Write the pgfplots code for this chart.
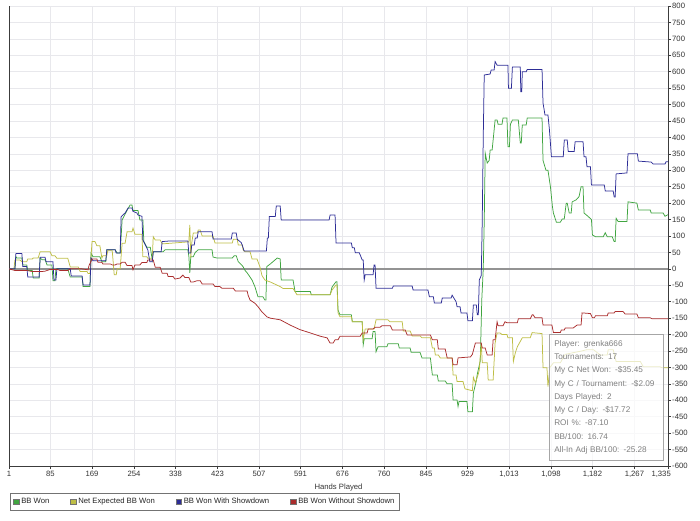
\documentclass[border=0pt]{standalone}
\usepackage{pgfplots}
\pgfplotsset{compat=1.18}
\usepackage{fontspec}
\setmainfont{Liberation Sans}
\definecolor{cgreen}{RGB}{64,165,64}
\definecolor{colive}{RGB}{190,190,70}
\definecolor{cblue}{RGB}{45,45,150}
\definecolor{cred}{RGB}{170,45,45}
\definecolor{gridc}{RGB}{232,232,236}
\definecolor{axc}{RGB}{60,60,60}
\begin{document}
\begin{tikzpicture}
\useasboundingbox (-9pt,-54pt) rectangle (691pt,466pt);
\begin{axis}[
  name=ax,
  scale only axis,
  width=659pt, height=460pt,
  xmin=1, xmax=1335, ymin=-600, ymax=800,
  axis x line*=bottom, axis y line*=right,
  axis line style={axc, line width=0.6pt},
  tick align=outside,
  major tick length=3pt,
  tick style={axc, line width=0.5pt},
  xtick={1,85,169,254,338,423,507,591,676,760,845,929,1013,1098,1182,1267},
  xticklabels={1,85,169,254,338,423,507,591,676,760,845,929,1{,}013,1{,}098,1{,}182,1{,}267},
  extra x ticks={1335},
  extra x tick labels={1{,}335},
  extra x tick style={grid=none, xticklabel style={anchor=north east, xshift=4pt}},
  ytick={-600,-550,...,800},
  yticklabels={-600,-550,-500,-450,-400,-350,-300,-250,-200,-150,-100,-50,0,50,100,150,200,250,300,350,400,450,500,550,600,650,700,750,800},
  ticklabel style={font=\fontsize{7.7}{9}\selectfont, text=black!80},
  yticklabel style={anchor=west, inner sep=1pt},
  xticklabel style={inner sep=1pt, yshift=-1pt},
  grid=major,
  major grid style={gridc, line width=0.5pt},
  xlabel={Hands Played},
  xlabel style={font=\fontsize{7.7}{9}\selectfont, text=black!80, yshift=4pt},
  legend columns=4,
  legend cell align=left,
  legend style={at={(rel axis cs:0,0)}, anchor=north west, xshift=1pt, yshift=-27pt,
     draw=black!55, line width=0.5pt, font=\fontsize{7.7}{9}\selectfont, text=black!85,
     inner xsep=3pt, inner ysep=3pt,
     /tikz/every even column/.append style={column sep=19pt},
     /tikz/every odd column/.append style={column sep=0pt}},
  legend image code/.code={\draw[#1, fill, draw=black!55, line width=0.4pt] (0pt,-2.8pt) rectangle (5.6pt,2.8pt);},
  every axis plot/.append style={line width=0.75pt},
]
\addplot[gray!85, line width=1.3pt, forget plot] coordinates {(1,0) (1335,0)};
\draw[axc, line width=0.6pt] (rel axis cs:0,0) -- (rel axis cs:0,1);

% BB Won
\addplot[cgreen] coordinates {
(1,0) (13,0) (15,37) (17,33) (27,33) (29,12) (37,12) (39,-5) (48,-5) (50,-28) (62,-28) (64,33) (68,28) (74,28) (78,12) (88,12) (90,-36) (94,-36) (96,0) (120,0) (125,-25) (149,-25) (151,-54) (165,-54) (167,48) (171,37) (185,37) (189,22) (197,22) (199,58) (216,58) (220,48) (226,48) (230,149) (240,178) (246,194) (250,194) (252,178) (262,178) (266,149) (272,149) (274,83) (280,66) (287,66) (291,27) (293,52) (313,52) (317,58) (363,58) (365,40) (367,-12) (369,37) (374,37) (378,50) (384,58) (412,58) (414,36) (422,33) (453,33) (457,40) (461,40) (465,22) (473,10) (475,6) (479,-5) (483,-12) (489,-25) (493,-34) (499,-55) (505,-85) (515,-85) (519,-95) (521,-95) (523,7) (530,15) (544,33) (550,30) (552,-34) (576,-34) (580,-69) (611,-69) (613,-79) (651,-79) (655,-55) (663,-39) (665,-39) (667,-125) (671,-140) (694,-140) (696,-161) (716,-161) (718,-231) (720,-213) (736,-213) (738,-191) (742,-191) (744,-252) (748,-237) (766,-237) (768,-228) (789,-228) (791,-241) (813,-241) (815,-254) (833,-254) (837,-271) (854,-271) (858,-323) (868,-323) (870,-341) (884,-341) (888,-350) (898,-350) (900,-399) (908,-399) (910,-419) (912,-404) (928,-404) (930,-435) (939,-435) (941,-378) (947,-340) (949,-320) (955,-280) (958,-95) (961,0) (963,144) (964,250) (965,352) (969,322) (973,330) (975,362) (979,362) (981,392) (985,453) (989,453) (991,440) (999,440) (1001,459) (1009,459) (1011,372) (1014,372) (1016,440) (1020,453) (1032,453) (1036,383) (1038,383) (1040,438) (1048,438) (1050,459) (1080,459) (1082,330) (1088,300) (1092,300) (1097,250) (1101,190) (1103,170) (1109,142) (1117,142) (1121,152) (1125,152) (1129,200) (1131,200) (1135,170) (1139,170) (1141,204) (1149,210) (1155,220) (1159,250) (1163,250) (1165,170) (1173,160) (1180,150) (1182,103) (1188,98) (1204,98) (1208,110) (1212,98) (1222,98) (1226,83) (1228,83) (1230,154) (1234,144) (1252,144) (1254,204) (1272,200) (1275,179) (1299,179) (1301,170) (1325,170) (1329,160) (1335,165)
};
\addlegendentry{BB Won}

% Net Expected BB Won
\addplot[colive] coordinates {
(1,0) (11,0) (13,27) (23,27) (27,22) (37,22) (39,30) (48,30) (50,33) (60,33) (64,52) (84,52) (88,40) (94,40) (98,32) (120,32) (125,6) (141,6) (145,-8) (159,-8) (161,-14) (165,-14) (169,83) (175,83) (179,70) (185,70) (189,33) (191,40) (199,40) (201,55) (210,55) (214,-18) (218,-18) (220,0) (226,0) (230,78) (236,78) (240,113) (250,113) (252,124) (256,105) (270,105) (272,37) (280,37) (282,32) (291,32) (293,98) (297,88) (307,88) (311,76) (363,82) (365,82) (367,134) (369,33) (371,80) (374,109) (382,109) (384,118) (388,118) (392,100) (414,100) (418,79) (453,79) (455,90) (463,90) (465,73) (473,73) (475,57) (479,52) (489,52) (493,30) (503,30) (509,6) (513,-20) (519,-34) (530,-40) (550,-54) (556,-60) (576,-60) (580,-69) (584,-79) (651,-79) (655,-64) (663,-49) (665,-49) (667,-134) (671,-146) (694,-146) (696,-161) (716,-161) (718,-216) (722,-183) (740,-183) (744,-155) (768,-155) (772,-161) (797,-161) (799,-189) (813,-189) (817,-204) (833,-204) (837,-210) (854,-210) (858,-241) (862,-241) (864,-262) (870,-262) (874,-271) (898,-271) (900,-323) (906,-323) (908,-343) (920,-343) (924,-365) (939,-371) (941,-330) (945,-347) (951,-320) (953,-307) (957,-226) (959,-286) (969,-286) (971,-338) (981,-338) (985,-226) (989,-195) (995,-195) (999,-200) (1009,-200) (1011,-210) (1020,-210) (1022,-282) (1026,-255) (1030,-237) (1040,-210) (1056,-210) (1060,-194) (1080,-197) (1082,-301) (1090,-301) (1092,-358) (1096,-300) (1103,-286) (1117,-286) (1127,-260) (1160,-250) (1171,-246) (1184,-246) (1198,-262) (1212,-262) (1214,-246) (1224,-246) (1230,-282) (1279,-282) (1285,-298) (1319,-298) (1323,-301) (1335,-301)
};
\addlegendentry{Net Expected BB Won}

% BB Won With Showdown
\addplot[cblue] coordinates {
(1,0) (13,0) (15,47) (27,47) (29,7) (37,7) (39,-25) (62,-25) (64,35) (74,35) (76,22) (90,22) (92,-34) (96,-34) (98,0) (125,0) (127,-22) (149,-22) (151,-49) (165,-49) (167,33) (171,25) (197,25) (199,58) (216,58) (218,48) (226,48) (228,159) (236,170) (242,185) (250,185) (252,175) (260,170) (262,164) (270,160) (272,88) (278,70) (282,58) (286,22) (291,22) (293,52) (309,52) (311,83) (327,85) (363,85) (365,48) (369,48) (371,73) (376,73) (378,94) (382,94) (384,113) (412,113) (414,91) (451,91) (453,109) (461,109) (463,90) (471,80) (473,73) (477,54) (522,54) (524,94) (526,94) (528,159) (540,159) (542,191) (550,191) (552,149) (649,149) (651,164) (661,164) (663,79) (694,79) (696,64) (700,64) (702,49) (710,49) (712,42) (716,27) (718,27) (720,-34) (722,-18) (738,-18) (740,12) (742,12) (744,-59) (777,-59) (779,-52) (817,-52) (819,-64) (849,-64) (852,-85) (860,-85) (862,-104) (876,-104) (878,-89) (896,-89) (898,-80) (906,-100) (908,-115) (914,-115) (916,-134) (928,-134) (930,-158) (939,-158) (941,-110) (947,-110) (949,-140) (951,-140) (953,-34) (957,-20) (959,150) (961,400) (963,590) (975,593) (977,605) (983,605) (985,631) (989,620) (1011,620) (1012,550) (1018,550) (1020,614) (1036,614) (1037,539) (1039,539) (1040,600) (1048,600) (1050,607) (1080,607) (1082,505) (1086,468) (1092,468) (1095,423) (1099,341) (1123,341) (1125,392) (1131,392) (1133,357) (1145,357) (1147,387) (1163,387) (1165,341) (1169,341) (1171,311) (1178,311) (1180,255) (1206,255) (1208,237) (1224,237) (1226,219) (1228,219) (1230,289) (1252,292) (1254,350) (1273,350) (1275,328) (1301,325) (1305,319) (1329,319) (1331,326) (1335,326)
};
\addlegendentry{BB Won With Showdown}

% BB Won Without Showdown
\addplot[cred] coordinates {
(1,0) (13,-5) (37,-5) (48,-8) (68,-8) (74,-7) (84,-2) (100,-2) (104,-5) (120,-5) (125,0) (149,0) (161,-3) (163,10) (169,30) (179,30) (181,20) (189,20) (191,15) (206,15) (210,12) (216,12) (220,15) (226,15) (230,20) (236,20) (240,10) (250,10) (252,-3) (256,12) (266,12) (270,19) (280,19) (282,27) (293,27) (297,5) (307,5) (311,-13) (321,-13) (323,-23) (333,-23) (337,-31) (347,-28) (353,-19) (357,-26) (365,-26) (369,-40) (374,-40) (382,-36) (388,-36) (392,-46) (414,-46) (418,-54) (428,-54) (432,-59) (455,-59) (459,-67) (483,-67) (485,-80) (489,-95) (499,-105) (505,-115) (513,-131) (523,-146) (530,-150) (550,-155) (570,-171) (590,-185) (611,-195) (631,-205) (645,-210) (651,-226) (657,-226) (661,-216) (667,-216) (671,-205) (712,-205) (716,-195) (726,-195) (728,-183) (738,-183) (742,-178) (752,-178) (756,-173) (773,-173) (777,-186) (803,-186) (807,-201) (854,-201) (858,-216) (868,-216) (870,-244) (884,-244) (888,-271) (898,-271) (900,-292) (908,-292) (910,-271) (935,-268) (939,-260) (945,-226) (957,-226) (959,-241) (965,-241) (969,-262) (979,-262) (981,-216) (985,-216) (989,-161) (991,-173) (1001,-173) (1005,-161) (1009,-164) (1030,-164) (1032,-152) (1056,-152) (1060,-140) (1062,-140) (1066,-149) (1080,-149) (1082,-171) (1100,-171) (1103,-194) (1117,-194) (1119,-186) (1125,-186) (1127,-180) (1143,-180) (1151,-171) (1159,-171) (1161,-134) (1178,-136) (1182,-149) (1186,-149) (1188,-143) (1212,-143) (1214,-134) (1226,-134) (1228,-130) (1244,-130) (1248,-137) (1272,-137) (1275,-149) (1299,-149) (1303,-152) (1335,-152)
};
\addlegendentry{BB Won Without Showdown}

\node[anchor=north west, draw=black!35, line width=0.6pt, fill=white, fill opacity=0.7, text opacity=1,
      text=black!50, inner xsep=5pt, inner ysep=6pt, text width=104pt, align=left,
      font=\fontsize{8.2}{13.3}\selectfont] at (axis cs:1094,-198)
  {Player: grenka666\\Tournaments: 17\\My C Net Won: -\$35.45\\My C / Tournament: -\$2.09\\Days Played: 2\\My C / Day: -\$17.72\\ROI \%: -87.10\\BB/100: 16.74\\All-In Adj BB/100: -25.28};
\end{axis}
\end{tikzpicture}
\end{document}
